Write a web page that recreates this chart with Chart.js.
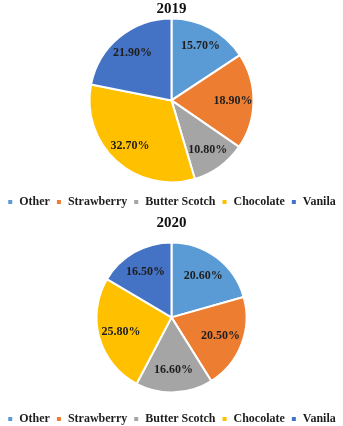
<!DOCTYPE html>
<html><head><meta charset="utf-8">
<script src="https://cdn.jsdelivr.net/npm/chart.js@4/dist/chart.umd.min.js"></script>
<style>
html,body{margin:0;padding:0;background:#fff;overflow:hidden;}
#w1{position:absolute;left:0;top:0;width:343px;height:218px;}
#w2{position:absolute;left:0;top:214px;width:343px;height:221px;}
</style></head><body>
<div id="w1"><canvas id="c1"></canvas></div>
<div id="w2"><canvas id="c2"></canvas></div>
<script>
const categories = ['Other','Strawberry','Butter Scotch','Chocolate','Vanila'];
const years = ['2019','2020'];
const values2019 = [15.7,18.9,10.8,32.7,21.9];
const values2020 = [20.6,20.5,16.6,25.8,16.5];
const colors = ['#5B9BD5','#ED7D31','#A5A5A5','#FFC000','#4472C4'];

const labelPlugin = {
  id:'pctLabels',
  afterDatasetsDraw(chart){
    const ctx = chart.ctx;
    const meta = chart.getDatasetMeta(0);
    const f = chart.options.plugins.pctLabels.frac;
    ctx.save();
    ctx.font = 'bold 12px "Liberation Serif", "Times New Roman", serif';
    ctx.fillStyle = '#1e1e1e';
    ctx.textAlign='center'; ctx.textBaseline='middle';
    meta.data.forEach((arc,i)=>{
      const p = arc.getProps(['x','y','startAngle','endAngle','outerRadius'],true);
      const a = (p.startAngle+p.endAngle)/2;
      const r = p.outerRadius*f;
      const v = chart.data.datasets[0].data[i];
      ctx.fillText(v.toFixed(2)+'%', p.x+Math.cos(a)*r, p.y+Math.sin(a)*r);
    });
    ctx.restore();
  }
};

function make(id, title, values, radius, frac, gap){
  return new Chart(document.getElementById(id),{
    type:'pie',
    data:{labels:categories,datasets:[{data:values,backgroundColor:colors,borderColor:'#fff',borderWidth:2,radius:radius}]},
    options:{
      responsive:true,maintainAspectRatio:false,animation:false,
      plugins:{
        pctLabels:{frac:frac},
        tooltip:{enabled:false},
        title:{display:true,text:title,color:'#111',font:{family:'"Liberation Serif", serif',size:15,weight:'bold'},padding:{top:0,bottom:2}},
        legend:{position:'bottom',
          title:{display:true,text:'',font:{size:1},padding:{top:gap,bottom:0}},
          labels:{color:'#1e1e1e',boxWidth:6,boxHeight:6,padding:6,font:{family:'"Liberation Serif", serif',size:12,weight:'bold'}}}
      }
    },
    plugins:[labelPlugin]
  });
}
make('c1', years[0], values2019, 82, 0.75, 8);
make('c2', years[1], values2020, 75, 0.7, 5);
</script>
</body></html>
